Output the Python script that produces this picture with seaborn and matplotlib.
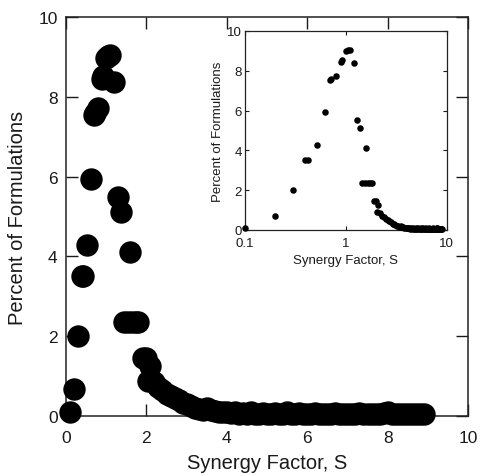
import numpy as np
import pandas as pd
import seaborn as sns
import matplotlib.pyplot as plt
from matplotlib.ticker import FixedLocator, NullLocator, FixedFormatter

# Data: synergy factor S and percent of formulations
synergy = [0.1, 0.2, 0.3, 0.39, 0.42, 0.52, 0.62, 0.69, 0.72, 0.8,
           0.9, 0.92, 1.0, 1.05, 1.1, 1.2, 1.3, 1.38, 1.6,
           1.45, 1.55, 1.65, 1.75, 1.8,
           1.92, 2.0, 2.1, 2.05, 2.2, 2.3, 2.4, 2.5, 2.6, 2.7,
           2.8, 2.9, 3.0, 3.1, 3.2, 3.3, 3.4, 3.5, 3.6, 3.7,
           3.8, 3.9, 4.0, 4.1, 4.2, 4.3, 4.4, 4.5, 4.6, 4.7,
           4.8, 4.9, 5.0, 5.1, 5.2, 5.3, 5.4, 5.5, 5.6, 5.7,
           5.8, 5.9, 6.0, 6.1, 6.2, 6.3, 6.4, 6.5, 6.6, 6.7,
           6.8, 6.9, 7.0, 7.1, 7.2, 7.3, 7.4, 7.5, 7.6, 7.7,
           7.8, 7.9, 8.0, 8.1, 8.2, 8.3, 8.4, 8.5, 8.6, 8.7,
           8.8, 8.9]
percent = [0.1, 0.68, 2.0, 3.5, 3.5, 4.28, 5.93, 7.55, 7.6, 7.72,
           8.45, 8.52, 8.98, 9.02, 9.05, 8.38, 5.5, 5.12, 4.1,
           2.35, 2.35, 2.35, 2.35, 2.35,
           1.45, 1.45, 1.25, 0.88, 0.85, 0.72, 0.65, 0.55, 0.5, 0.45,
           0.4, 0.32, 0.3, 0.25, 0.2, 0.18, 0.15, 0.2, 0.15, 0.12,
           0.1, 0.1, 0.1, 0.08, 0.1, 0.05, 0.08, 0.05, 0.1, 0.05,
           0.05, 0.08, 0.05, 0.05, 0.08, 0.05, 0.05, 0.1, 0.05, 0.05,
           0.08, 0.05, 0.05, 0.05, 0.08, 0.05, 0.05, 0.05, 0.05, 0.08,
           0.05, 0.05, 0.05, 0.05, 0.05, 0.08, 0.05, 0.05, 0.05, 0.05,
           0.05, 0.08, 0.1, 0.05, 0.05, 0.05, 0.05, 0.05, 0.05, 0.05,
           0.05, 0.05]

df = pd.DataFrame({'S': synergy, 'pct': percent})

main_ticks = [0, 2, 4, 6, 8, 10]
inset_xticks = [0.1, 1, 10]
inset_xlabels = ['0.1', '1', '10']
inset_yticks = [0, 2, 4, 6, 8, 10]

sns.set_style('ticks')
plt.rcParams['font.family'] = ['Liberation Sans', 'DejaVu Sans']
plt.rcParams['text.color'] = '#1a1a1a'
plt.rcParams['axes.labelcolor'] = '#1a1a1a'
plt.rcParams['xtick.color'] = '#1a1a1a'
plt.rcParams['ytick.color'] = '#1a1a1a'

fig = plt.figure(figsize=(4.8, 4.77), dpi=100)
ax = fig.add_axes([0.1375, 0.126, 0.8375, 0.836])

sns.scatterplot(data=df, x='S', y='pct', ax=ax, color='black', s=260,
                edgecolor='black', linewidth=0, clip_on=False, zorder=3)
ax.set_xlim(0, 10)
ax.set_ylim(0, 10)
ax.set_xticks(main_ticks)
ax.set_yticks(main_ticks)
ax.tick_params(direction='in', length=8.5, width=1, labelsize=12.5,
               top=True, right=True)
ax.tick_params(axis='x', pad=10)
ax.tick_params(axis='y', pad=6)
ax.set_xlabel('Synergy Factor, S', fontsize=14.5, labelpad=6)
ax.set_ylabel('Percent of Formulations', fontsize=14.5, labelpad=8)
for sp in ax.spines.values():
    sp.set_linewidth(1.1)
    sp.set_color('#222222')

# Inset with log x axis
ins = fig.add_axes([0.510, 0.516, 0.421, 0.417])
sns.scatterplot(data=df, x='S', y='pct', ax=ins, color='black', s=22,
                edgecolor='black', linewidth=0, clip_on=False, zorder=3)
ins.set_xscale('log')
ins.set_xlim(0.1, 10)
ins.set_ylim(0, 10)
ins.xaxis.set_major_locator(FixedLocator(inset_xticks))
ins.xaxis.set_major_formatter(FixedFormatter(inset_xlabels))
ins.xaxis.set_minor_locator(NullLocator())
ins.set_yticks(inset_yticks)
ins.tick_params(direction='in', length=3, width=0.8, labelsize=9.5,
                top=True, right=True, pad=2)
ins.tick_params(axis='x', pad=5)
ins.set_xlabel('Synergy Factor, S', fontsize=9.5, labelpad=4)
ins.set_ylabel('Percent of Formulations', fontsize=9.5, labelpad=2)
for sp in ins.spines.values():
    sp.set_linewidth(0.9)
    sp.set_color('#222222')

fig.savefig('out.png', dpi=100)
